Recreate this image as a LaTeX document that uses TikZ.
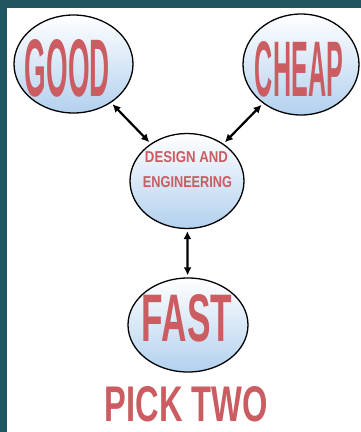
\documentclass[tikz,border=0pt]{standalone}
\usepackage{fontspec}
\usepackage{graphicx}
\setmainfont{Liberation Sans}
\usepackage{tikz}
\usetikzlibrary{positioning, calc, shapes, arrows.meta}

\definecolor{tealbg}{RGB}{31,86,96}
\definecolor{wordred}{RGB}{203,92,98}
\definecolor{bubbleblue}{RGB}{178,208,238}

% word squeezed into a box of given width and height
\newcommand{\bigword}[3]{\resizebox{#1pt}{#2pt}{\bfseries #3}}

\tikzset{
  bubble/.style = {ellipse, draw = black, line width = 1.3pt, top color = white, bottom color = bubbleblue, inner sep = 0pt},
  word/.style = {text = wordred, inner sep = 0pt},
  link/.style = {{Latex[length=8pt,width=8pt]}-{Latex[length=8pt,width=8pt]}, line width = 2.2pt, shorten <= 2pt, shorten >= 2pt}
}

\begin{document}
\begin{tikzpicture}[x = 1pt, y = -1pt]
  \useasboundingbox (0,0) rectangle (361,432);
  \fill[tealbg] (0,0) rectangle (361,432);
  \fill[white] (7,8) rectangle (361,432);

  % the three choices and the middle
  \node[bubble, minimum width = 119pt, minimum height = 98pt] (good) at (73.5,64) {};
  \node[bubble, minimum width = 116pt, minimum height = 101pt] (cheap) at (301,64.5) {};
  \node[bubble, minimum width = 114pt, minimum height = 95pt] (design) at (187,181) {};
  \node[bubble, minimum width = 120pt, minimum height = 94pt] (fast) at (188,325) {};

  \node[word] (goodtext) at (67.5,68.5) {\bigword{85}{57}{GOOD}};
  \node[word] (cheaptext) at (299,69.5) {\bigword{88}{55}{CHEAP}};
  \node[word] (designtext) at (186.5,157.5) {\bigword{83}{11}{DESIGN AND}};
  \node[word] (engtext) at (187.5,182.5) {\bigword{89}{11}{ENGINEERING}};
  \node[word] (fasttext) at (187,318.5) {\bigword{90}{47}{FAST}};
  \node[word] (picktwo) at (186.5,404.5) {\bigword{163}{35}{PICK TWO}};

  % arrows
  \draw[link] (good) -- (design);
  \draw[link] (cheap) -- (design);
  \draw[link] (design) -- (fast);
\end{tikzpicture}
\end{document}
